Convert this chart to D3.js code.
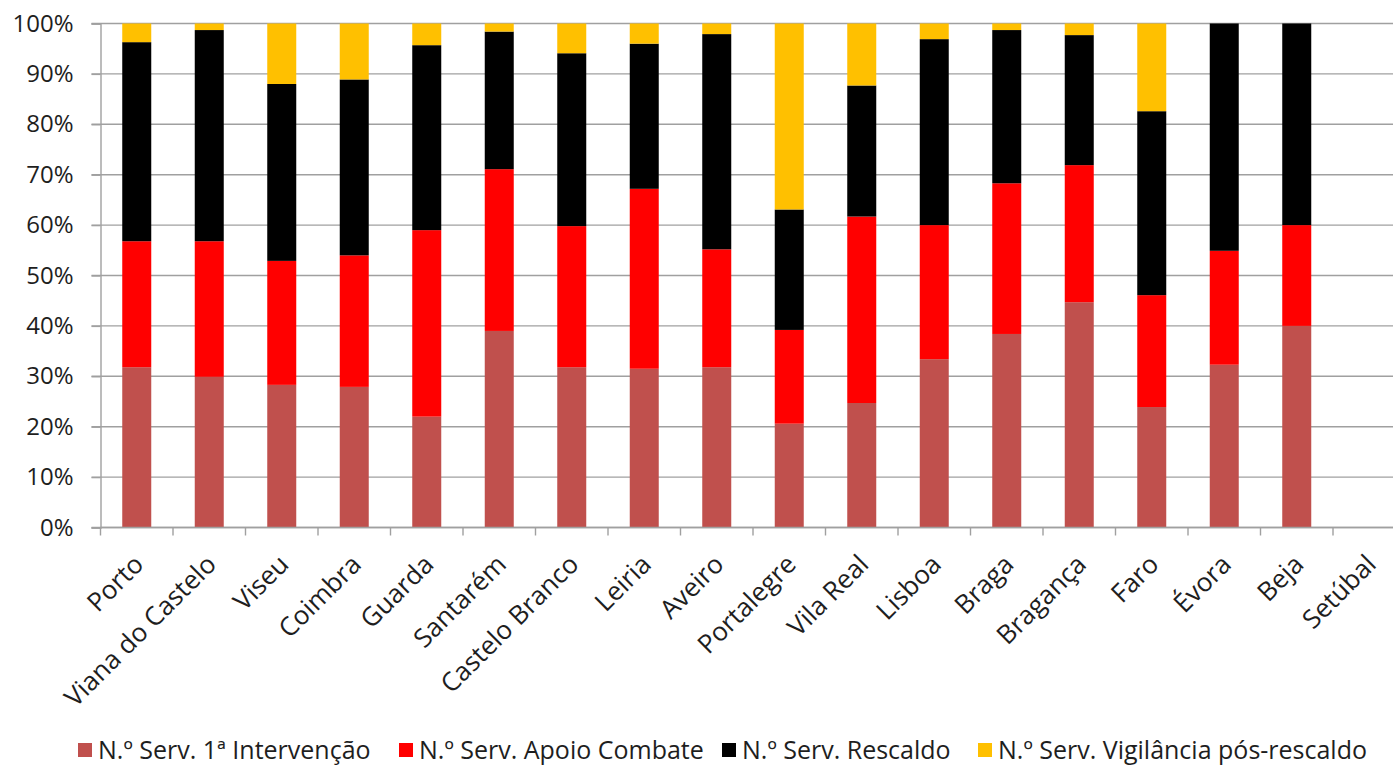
<!DOCTYPE html>
<html>
<head>
<meta charset="utf-8">
<script src="https://cdn.jsdelivr.net/npm/d3@7"></script>
<style>
  html, body { margin: 0; padding: 0; background: #fff; }
  svg { display: block; }
  text { font-family: "Open Sans", "Noto Sans", sans-serif; fill: #1e1e1e; }
</style>
</head>
<body>
<svg id="chart" width="1393" height="766"></svg>
<script>
// Distritos
const categories = ["Porto", "Viana do Castelo", "Viseu", "Coimbra", "Guarda", "Santarém",
  "Castelo Branco", "Leiria", "Aveiro", "Portalegre", "Vila Real", "Lisboa", "Braga",
  "Bragança", "Faro", "Évora", "Beja", "Setúbal"];

// Share of each service type per district (%)
const primeiraIntervencao = [31.8, 29.9, 28.3, 27.9, 22.0, 39.0, 31.8, 31.5, 31.8, 20.6, 24.7, 33.4, 38.4, 44.7, 23.9, 32.3, 40.0, 0];
const apoioCombate        = [25.0, 26.9, 24.6, 26.1, 37.0, 32.1, 28.0, 35.7, 23.4, 18.6, 37.0, 26.6, 29.9, 27.2, 22.2, 22.6, 20.0, 0];
const rescaldo            = [39.5, 41.9, 35.1, 34.9, 36.7, 27.3, 34.3, 28.8, 42.7, 23.9, 26.0, 36.9, 30.4, 25.8, 36.5, 45.1, 40.0, 0];
const vigilancia          = [3.7, 1.3, 12.0, 11.1, 4.3, 1.6, 5.9, 4.0, 2.1, 36.9, 12.3, 3.1, 1.3, 2.3, 17.4, 0, 0, 0];

const seriesNames = ["N.º Serv. 1ª Intervenção", "N.º Serv. Apoio Combate",
  "N.º Serv. Rescaldo", "N.º Serv. Vigilância pós-rescaldo"];
const seriesColors = ["#C0504D", "#FF0000", "#000000", "#FFC000"];
const yTicks = [0, 10, 20, 30, 40, 50, 60, 70, 80, 90, 100];

const seriesValues = [primeiraIntervencao, apoioCombate, rescaldo, vigilancia];
const keys = ["s0", "s1", "s2", "s3"];
const rows = categories.map((c, i) => {
  const r = { cat: c };
  keys.forEach((k, j) => r[k] = seriesValues[j][i]);
  return r;
});

const svg = d3.select("#chart");
const plot = { left: 100.5, top: 23.5, bottom: 527.5 };
const step = 72.5;
plot.right = plot.left + step * categories.length;

const x = d3.scaleBand()
  .domain(categories)
  .range([plot.left, plot.right])
  .paddingInner(0.6)
  .paddingOuter(0.3);

const y = d3.scaleLinear().domain([0, 100]).range([plot.bottom, plot.top]);

const gridColor = "#a0a0a0";

// Horizontal gridlines
svg.append("g")
  .selectAll("line")
  .data(yTicks)
  .join("line")
  .attr("x1", plot.left - 9)
  .attr("x2", plot.right)
  .attr("y1", d => y(d))
  .attr("y2", d => y(d))
  .attr("stroke", gridColor)
  .attr("stroke-width", 1.4);

// Stacked bars
const stacked = d3.stack().keys(keys)(rows);
svg.append("g")
  .selectAll("g")
  .data(stacked)
  .join("g")
  .attr("fill", (d, i) => seriesColors[i])
  .selectAll("rect")
  .data(d => d)
  .join("rect")
  .attr("x", d => x(d.data.cat))
  .attr("width", x.bandwidth())
  .attr("y", d => y(d[1]))
  .attr("height", d => Math.max(0, y(d[0]) - y(d[1])));

// Y axis
const yAxis = svg.append("g")
  .attr("transform", `translate(${plot.left},0)`)
  .call(d3.axisLeft(y).tickValues(yTicks).tickFormat(d => d + "%").tickSize(9).tickPadding(18));
yAxis.select(".domain").attr("stroke", gridColor).attr("stroke-width", 1.4);
yAxis.selectAll(".tick line").attr("stroke", gridColor).attr("stroke-width", 1.4);
yAxis.selectAll(".tick text")
  .style("font-family", "'Open Sans', sans-serif")
  .style("font-size", "24px")
  .attr("fill", "#1e1e1e");

// X axis: tick marks on category boundaries
const boundaries = d3.range(categories.length + 1).map(i => plot.left + i * step);
svg.append("line")
  .attr("x1", plot.left).attr("x2", plot.right)
  .attr("y1", plot.bottom).attr("y2", plot.bottom)
  .attr("stroke", gridColor).attr("stroke-width", 1.4);
svg.append("g")
  .selectAll("line")
  .data(boundaries)
  .join("line")
  .attr("x1", d => d).attr("x2", d => d)
  .attr("y1", plot.bottom).attr("y2", plot.bottom + 8)
  .attr("stroke", gridColor).attr("stroke-width", 1.4);

// Rotated category labels
svg.append("g")
  .selectAll("text")
  .data(categories)
  .join("text")
  .attr("transform", d => `translate(${x(d) + x.bandwidth() / 2 + 2},${plot.bottom + 32}) rotate(-45)`)
  .attr("text-anchor", "end")
  .attr("dy", "0.35em")
  .style("font-size", "26px")
  .text(d => d);

// Legend
const legendX = [78, 399, 722, 978];
const legend = svg.append("g").attr("transform", "translate(0,750)");
const items = legend.selectAll("g")
  .data(seriesNames)
  .join("g")
  .attr("transform", (d, i) => `translate(${legendX[i]},0)`);
items.append("rect")
  .attr("x", 0).attr("y", -7)
  .attr("width", 14).attr("height", 14)
  .attr("fill", (d, i) => seriesColors[i]);
items.append("text")
  .attr("x", 20)
  .attr("dy", "0.35em")
  .style("font-size", "25px")
  .text(d => d);
</script>
</body>
</html>
